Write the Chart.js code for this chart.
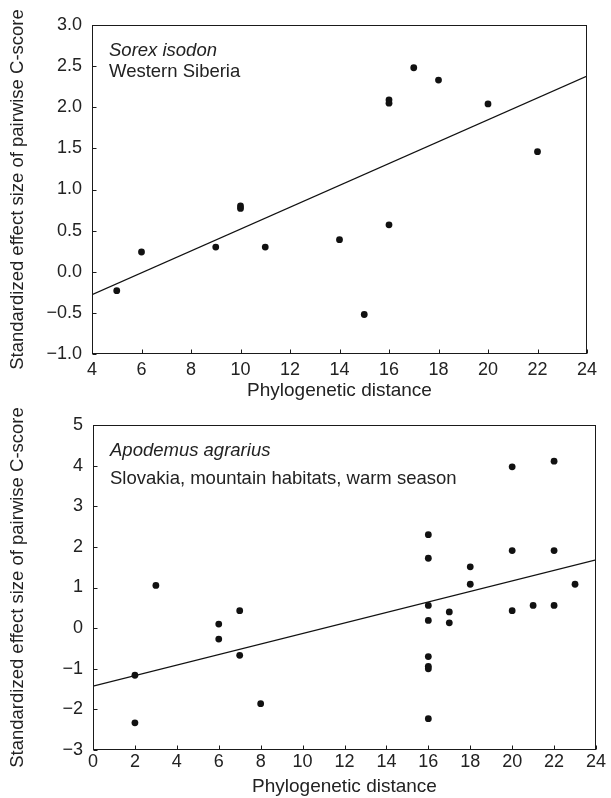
<!DOCTYPE html>
<html>
<head>
<meta charset="utf-8">
<script src="https://cdn.jsdelivr.net/npm/chart.js@4.4.1/dist/chart.umd.min.js"></script>
<style>
    html, body { margin: 0; padding: 0; background: #fff; }
    .panel { position: absolute; left: 0; width: 611px; }
    #topPanel { top: 0; height: 403px; }
    #bottomPanel { top: 403px; height: 395px; }
</style>
</head>
<body>
<div class="panel" id="topPanel"><canvas id="topChart"></canvas></div>
<div class="panel" id="bottomPanel"><canvas id="bottomChart"></canvas></div>
<script>
// Top panel: Sorex isodon, Western Siberia
const topX = [5, 6, 9, 10, 10, 11, 14, 15, 16, 16, 16, 17, 18, 20, 22];
const topY = [-0.23, 0.24, 0.30, 0.80, 0.77, 0.30, 0.39, -0.52, 0.57, 2.09, 2.05, 2.48, 2.33, 2.04, 1.46];
const topFitX = [4, 24];
const topFitY = [-0.28, 2.38];

// Bottom panel: Apodemus agrarius, Slovakia
const bottomX = [2, 2, 3, 6, 6, 7, 7, 8,
    16, 16, 16, 16, 16, 16, 16, 16,
    17, 17, 18, 18, 20, 20, 20, 21, 22, 22, 22, 23];
const bottomY = [-1.16, -2.33, 1.05, 0.10, -0.27, 0.43, -0.67, -1.86,
    2.30, 1.72, 0.56, 0.19, -0.70, -0.94, -1.00, -2.23,
    0.40, 0.13, 1.51, 1.08, 3.97, 1.91, 0.43, 0.56, 4.11, 1.91, 0.56, 1.08];
const bottomFitX = [0, 24];
const bottomFitY = [-1.43, 1.68];

const xTitle = 'Phylogenetic distance';
const yTitle = 'Standardized effect size of pairwise C-score';

const toPoints = (xs, ys) => xs.map((x, i) => ({ x: x, y: ys[i] }));
const minus = v => (v < 0 ? '\u2212' : '');

Chart.defaults.font.family = '"Liberation Sans", Arial, Helvetica, sans-serif';
Chart.defaults.color = '#222';

// box around the plot, inward ticks and the corner notes
const framePlugin = {
    id: 'frame',
    afterDatasetsDraw(chart, args, opts) {
        const { ctx, chartArea: a, scales: { x, y } } = chart;
        const l = Math.round(a.left) + 0.5, r = Math.round(a.right) - 0.5;
        const t = Math.round(a.top) + 0.5, b = Math.round(a.bottom) - 0.5;
        ctx.save();
        ctx.strokeStyle = '#1a1a1a';
        ctx.lineWidth = 1;
        ctx.strokeRect(l, t, r - l, b - t);
        ctx.beginPath();
        x.ticks.forEach(tk => {
            const px = Math.round(x.getPixelForValue(tk.value)) + 0.5;
            ctx.moveTo(px, b);
            ctx.lineTo(px, b - 4);
        });
        y.ticks.forEach(tk => {
            const py = Math.round(y.getPixelForValue(tk.value)) + 0.5;
            ctx.moveTo(l, py);
            ctx.lineTo(l + 4, py);
        });
        ctx.stroke();

        ctx.fillStyle = '#222';
        ctx.textBaseline = 'alphabetic';
        ctx.textAlign = 'left';
        opts.lines.forEach(line => {
            ctx.font = (line.italic ? 'italic ' : '') + '18.5px "Liberation Sans", Arial, sans-serif';
            ctx.fillText(line.text, a.left + 17, a.top + line.dy);
        });
        ctx.restore();
    }
};

const makeChart = (id, cfg) => {
    new Chart(document.getElementById(id), {
        type: 'scatter',
        data: {
            datasets: [{
                data: toPoints(cfg.xs, cfg.ys),
                backgroundColor: '#111',
                borderWidth: 0,
                pointRadius: 3.4,
                order: 0
            }, {
                type: 'line',
                data: toPoints(cfg.fitX, cfg.fitY),
                borderColor: '#111',
                borderWidth: 1.2,
                pointRadius: 0,
                fill: false,
                order: 1
            }]
        },
        options: {
            responsive: true,
            maintainAspectRatio: false,
            animation: false,
            layout: { padding: cfg.padding },
            plugins: {
                legend: { display: false },
                tooltip: { enabled: false },
                frame: { lines: cfg.notes }
            },
            scales: {
                x: {
                    type: 'linear',
                    min: cfg.xMin,
                    max: 24,
                    afterFit: s => { s.height = cfg.xHeight; },
                    grid: { display: false, drawTicks: false },
                    border: { display: false },
                    ticks: {
                        stepSize: 2,
                        autoSkip: false,
                        maxRotation: 0,
                        padding: cfg.xTickPad,
                        font: { size: 18 }
                    },
                    title: {
                        display: true,
                        text: xTitle,
                        font: { size: 19 },
                        padding: { top: 0, bottom: cfg.xTitlePad }
                    }
                },
                y: {
                    min: cfg.yMin,
                    max: cfg.yMax,
                    afterFit: s => { s.width = cfg.yWidth; },
                    grid: { display: false, drawTicks: false },
                    border: { display: false },
                    ticks: {
                        stepSize: cfg.yStep,
                        padding: 10,
                        font: { size: 18 },
                        callback: cfg.yFormat
                    },
                    title: {
                        display: true,
                        text: yTitle,
                        font: { size: 18.5 },
                        padding: { top: 7, bottom: 0 }
                    }
                }
            }
        },
        plugins: [framePlugin]
    });
};

makeChart('topChart', {
    xs: topX, ys: topY, fitX: topFitX, fitY: topFitY,
    xMin: 4, yMin: -1, yMax: 3, yStep: 0.5,
    yFormat: v => minus(v) + Math.abs(v).toFixed(1),
    padding: { top: 25, right: 24, left: 0, bottom: 0 },
    xHeight: 49, yWidth: 92, xTickPad: 5, xTitlePad: 1,
    notes: [
        { text: 'Sorex isodon', italic: true, dy: 31 },
        { text: 'Western Siberia', italic: false, dy: 52 }
    ]
});

makeChart('bottomChart', {
    xs: bottomX, ys: bottomY, fitX: bottomFitX, fitY: bottomFitY,
    xMin: 0, yMin: -3, yMax: 5, yStep: 1,
    yFormat: v => minus(v) + Math.abs(Math.round(v)),
    padding: { top: 22, right: 15, left: 0, bottom: 0 },
    xHeight: 48, yWidth: 93, xTickPad: 1, xTitlePad: 0,
    notes: [
        { text: 'Apodemus agrarius', italic: true, dy: 31 },
        { text: 'Slovakia, mountain habitats, warm season', italic: false, dy: 59 }
    ]
});
</script>
</body>
</html>
